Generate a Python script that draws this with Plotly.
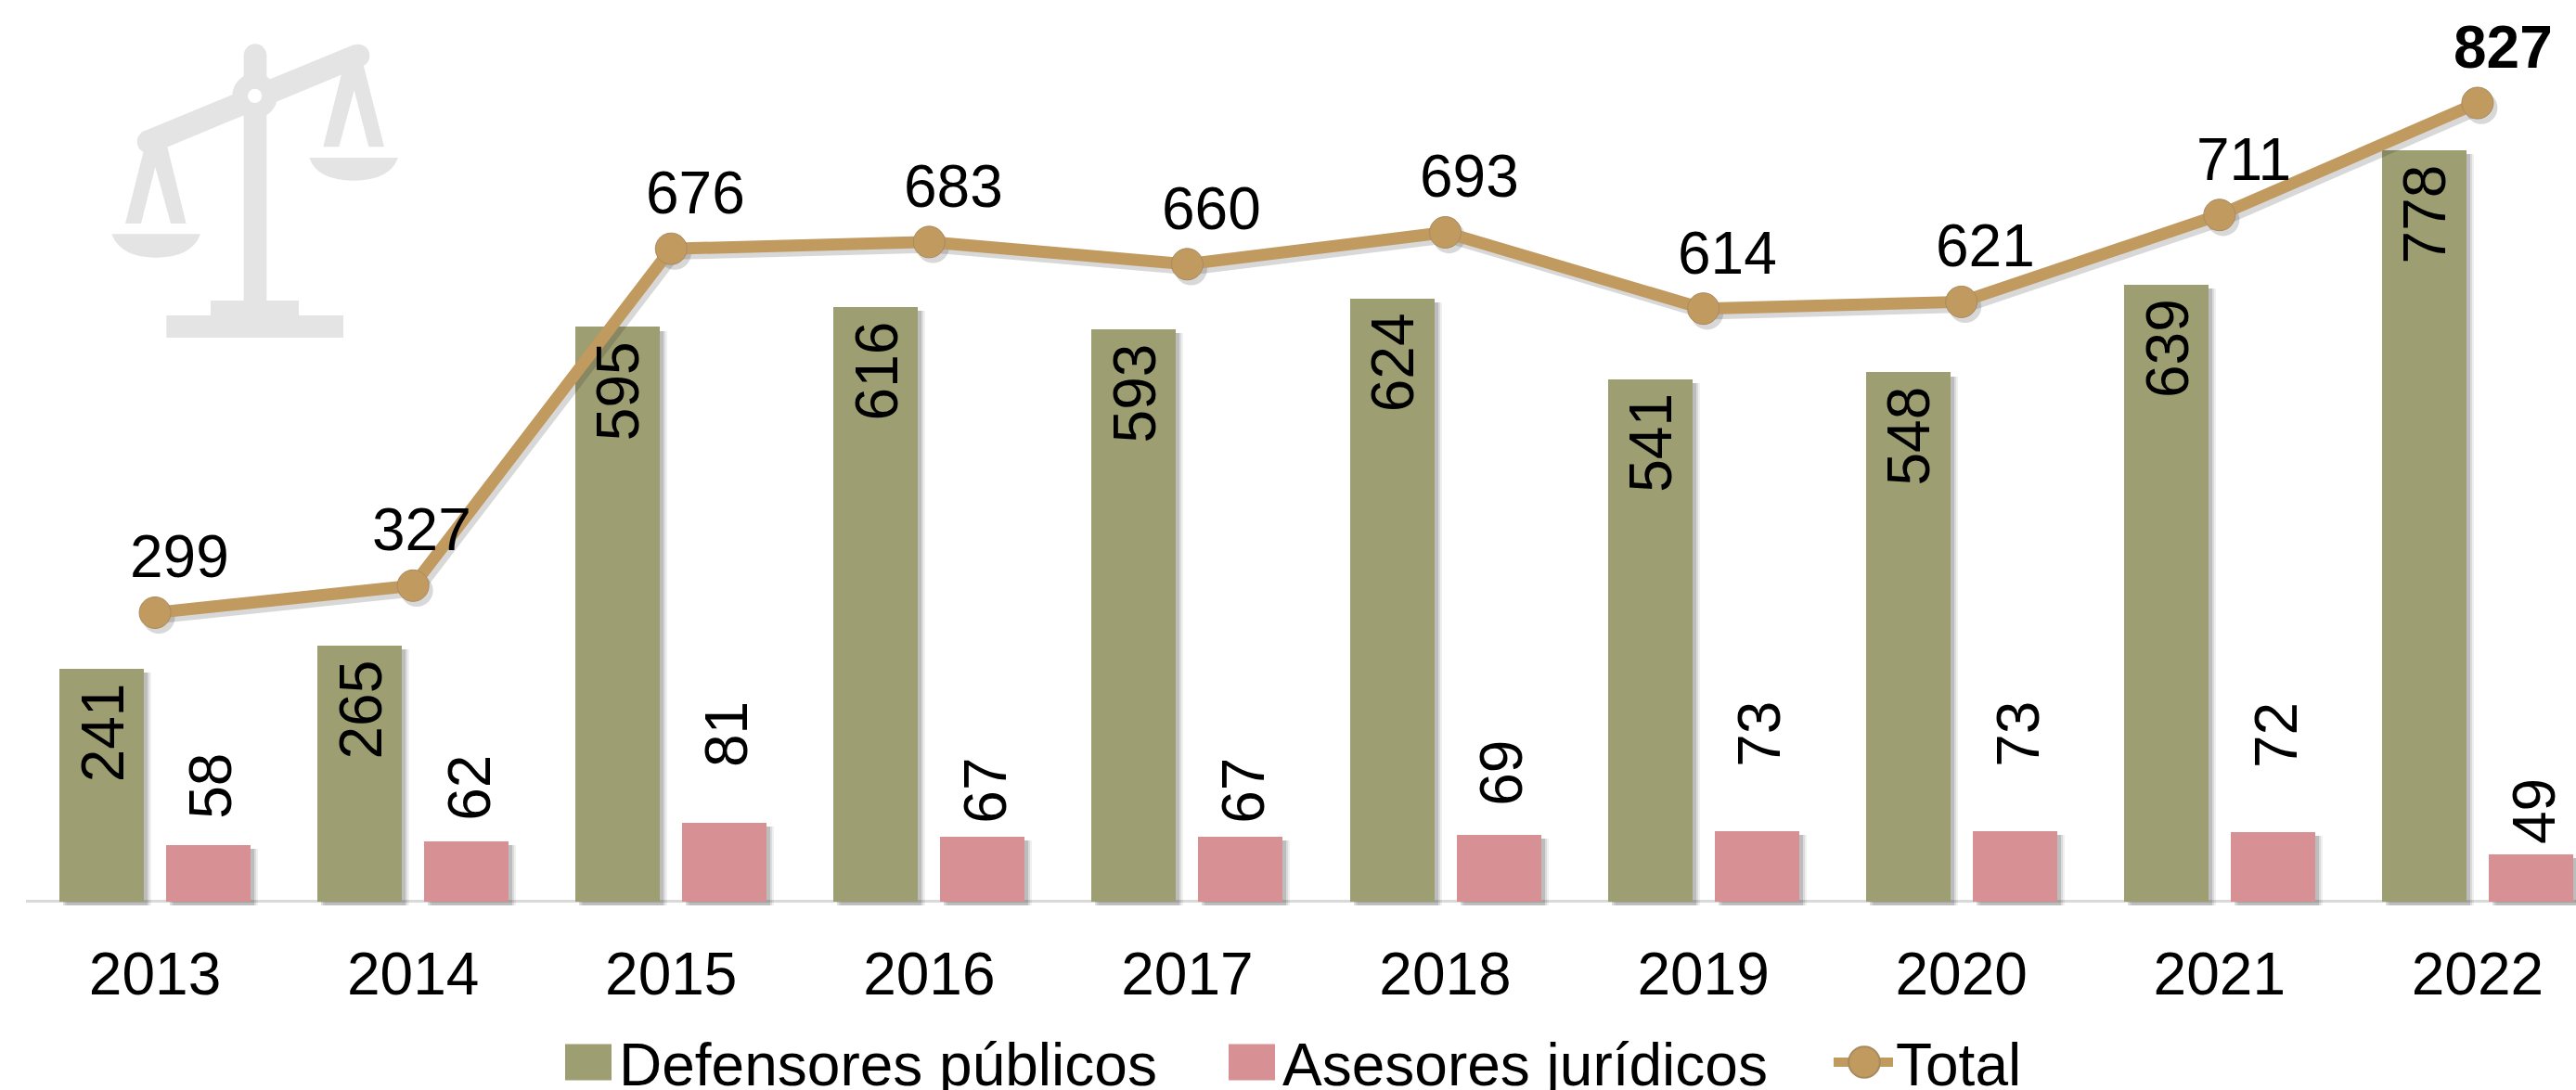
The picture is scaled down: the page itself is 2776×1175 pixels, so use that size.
import plotly.graph_objects as go

years = ["2013", "2014", "2015", "2016", "2017", "2018", "2019", "2020", "2021", "2022"]
defensores = [241, 265, 595, 616, 593, 624, 541, 548, 639, 778]
asesores = [58, 62, 81, 67, 67, 69, 73, 73, 72, 49]
total = [299, 327, 676, 683, 660, 693, 614, 621, 711, 827]
# hand-placed label offsets seen in the reference (pixels)
asesores_label_gap = [64, 58, 96, 50, 50, 66, 104, 104, 104, 46]
total_label_dx = [26, 9, 26, 26, 26, 26, 26, 26, 26, 28]

OLIVE, PINK, TAN, GREY = "#9D9E71", "#D79093", "#C19A60", "#E4E4E4"
FONT = "Liberation Sans, Arial, sans-serif"
W, H = 2776, 1175
ML, MB = 28, 193
PX = 1 / 278.1           # x units per pixel
xs = list(range(len(years)))
BW = 91 * PX
OFF_A, OFF_B = -103 * PX, 12 * PX

fig = go.Figure()
for blur, alpha in ((8, 0.07), (6, 0.10), (4, 0.16)):
    for vals, off in ((defensores, OFF_A), (asesores, OFF_B)):
        fig.add_bar(x=xs, y=vals, base=-4, width=BW, offset=off + blur * PX,
                    marker=dict(color=f"rgba(40,40,40,{alpha})", line_width=0),
                    showlegend=False, hoverinfo="skip")
fig.add_bar(x=xs, y=defensores, width=BW, offset=OFF_A, name="Defensores públicos",
            marker=dict(color=OLIVE, line_width=0))
fig.add_bar(x=xs, y=asesores, width=BW, offset=OFF_B, name="Asesores jurídicos",
            marker=dict(color=PINK, line_width=0))
fig.add_scatter(x=[x + 4 * PX for x in xs], y=[t - 5 for t in total], mode="lines+markers",
                line=dict(color="rgba(40,40,40,0.18)", width=13),
                marker=dict(color="rgba(40,40,40,0.18)", size=35),
                showlegend=False, hoverinfo="skip")
fig.add_scatter(x=xs, y=total, mode="lines+markers", name="Total",
                line=dict(color=TAN, width=13),
                marker=dict(color=TAN, size=34, line=dict(color="#A98A5E", width=1)))

ann = []
lab = dict(showarrow=False, font=dict(family=FONT, size=64, color="black"),
           xanchor="center", yanchor="middle")
for i in xs:
    ann.append(dict(x=i + (OFF_A + BW / 2), y=defensores[i], text=str(defensores[i]), textangle=-90,
                    yshift=-69, xshift=1, **lab))
    ann.append(dict(x=i + (OFF_B + BW / 2), y=asesores[i], text=str(asesores[i]), textangle=-90,
                    yshift=asesores_label_gap[i], xshift=3, **lab))
    bold = i == len(xs) - 1
    ann.append(dict(x=i, y=total[i], text=f"<b>{total[i]}</b>" if bold else str(total[i]),
                    xshift=total_label_dx[i], yshift=60, **lab))


# balance-scale watermark, measured in page pixels and mapped to paper space
PW, PH = W - ML, H - MB
def px(x): return (x - ML) / PW
def py(y): return 1 - y / PH
def zx(v): return 80 + v / 3
def zy(v): return 20 + v / 3
def path(pts, close=True):
    cmds = []
    for p in pts:
        if len(p) == 2:
            cmds.append(f"{'L' if cmds else 'M'}{px(zx(p[0])):.5f},{py(zy(p[1])):.5f}")
        else:
            cmds.append(f"Q{px(zx(p[0])):.5f},{py(zy(p[1])):.5f} {px(zx(p[2])):.5f},{py(zy(p[3])):.5f}")
    return " ".join(cmds) + (" Z" if close else "")
def pshape(pts, color=GREY):
    return dict(type="path", path=path(pts), xref="paper", yref="paper",
                fillcolor=color, line_width=0, layer="below")
def circ(cx, cy, r, color=GREY):
    return dict(type="circle", xref="paper", yref="paper", x0=px(zx(cx - r)), x1=px(zx(cx + r)),
                y0=py(zy(cy + r)), y1=py(zy(cy - r)), fillcolor=color, line_width=0, layer="below")

shapes = [
    pshape([(548, 120), (622, 120), (622, 912), (548, 912)]),
    circ(585, 119, 37),
    pshape([(441, 960), (441, 912), (726, 912), (726, 960)]),
    pshape([(298, 960), (870, 960), (870, 1032), (298, 1032)]),
    pshape([(230, 362), (905, 84), (935, 152), (262, 432)]),
    circ(240, 398, 37), circ(918, 120, 37),
    # left pan
    pshape([(225, 425), (300, 410), (362, 663), (312, 663), (262, 480), (216, 663), (165, 663)]),
    pshape([(121, 697), (408, 697), (380, 773, 264, 773), (150, 773, 121, 697)]),
    # right pan
    pshape([(865, 175), (935, 150), (1002, 415), (952, 415), (905, 232), (856, 415), (805, 415)]),
    pshape([(760, 450), (1047, 450), (1020, 524, 904, 524), (785, 524, 760, 450)]),
    circ(584, 250, 73),
    circ(584, 250, 23, "white"),
]

fig.update_layout(
    width=W, height=H, paper_bgcolor="white", plot_bgcolor="rgba(0,0,0,0)",
    margin=dict(l=ML, r=0, t=0, b=MB, autoexpand=False),
    barmode="overlay", bargap=0,
    font=dict(family=FONT, size=64, color="black"),
    xaxis=dict(range=[-0.5, (W - 167) / 278.1], tickmode="array", tickvals=xs, ticktext=years,
               showgrid=False, zeroline=False, showline=False, ticks="outside", ticklen=12,
               tickcolor="rgba(0,0,0,0)", tickfont=dict(family=FONT, size=64, color="black")),
    yaxis=dict(range=[-10, 933.7], visible=True, showticklabels=False, showgrid=False, ticks="",
               zeroline=True, zerolinecolor="#D9D9D9", zerolinewidth=3, showline=False),
    legend=dict(orientation="h", x=0.5, xanchor="center", y=-0.1, yanchor="top",
                bgcolor="rgba(0,0,0,0)", font=dict(family=FONT, size=64, color="black"),
                itemclick=False, itemdoubleclick=False),
    annotations=ann, shapes=shapes, hovermode=False,
)

post = """
document.body.style.margin = '0';
document.documentElement.style.overflow = 'hidden';
var gd = document.getElementById('{plot_id}');
var leg = gd.querySelector('.legend');
if (leg) {
  leg.setAttribute('transform', 'translate(0,0)');
  var box = leg.querySelector('.scrollbox');
  box.removeAttribute('clip-path');
  box.setAttribute('transform', 'translate(0,0)');
  var bg = leg.querySelector('.bg'); if (bg) bg.style.display = 'none';
  var textX = [627, 1342, 2003], textY = 1145;
  leg.querySelectorAll('.traces').forEach(function (t, i) {
    t.setAttribute('transform', 'translate(' + textX[i] + ',' + textY + ')');
    if (i < 2) {
      t.querySelectorAll('.legendpoints path').forEach(function (b) {
        b.setAttribute('d', 'M25,19.5H-25V-19.5H25Z');
        b.setAttribute('transform', 'translate(7,0)');
      });
    } else {
      var l = t.querySelector('.legendlines path');
      if (l) { l.setAttribute('d', 'M-27,0H37'); }
      var m = t.querySelector('.legendsymbols .scatterpts');
      if (m) { m.setAttribute('transform', 'translate(6,0) scale(2.1)'); }
    }
  });
}
"""
fig.write_html("out.html", post_script=post, config=dict(displayModeBar=False))
